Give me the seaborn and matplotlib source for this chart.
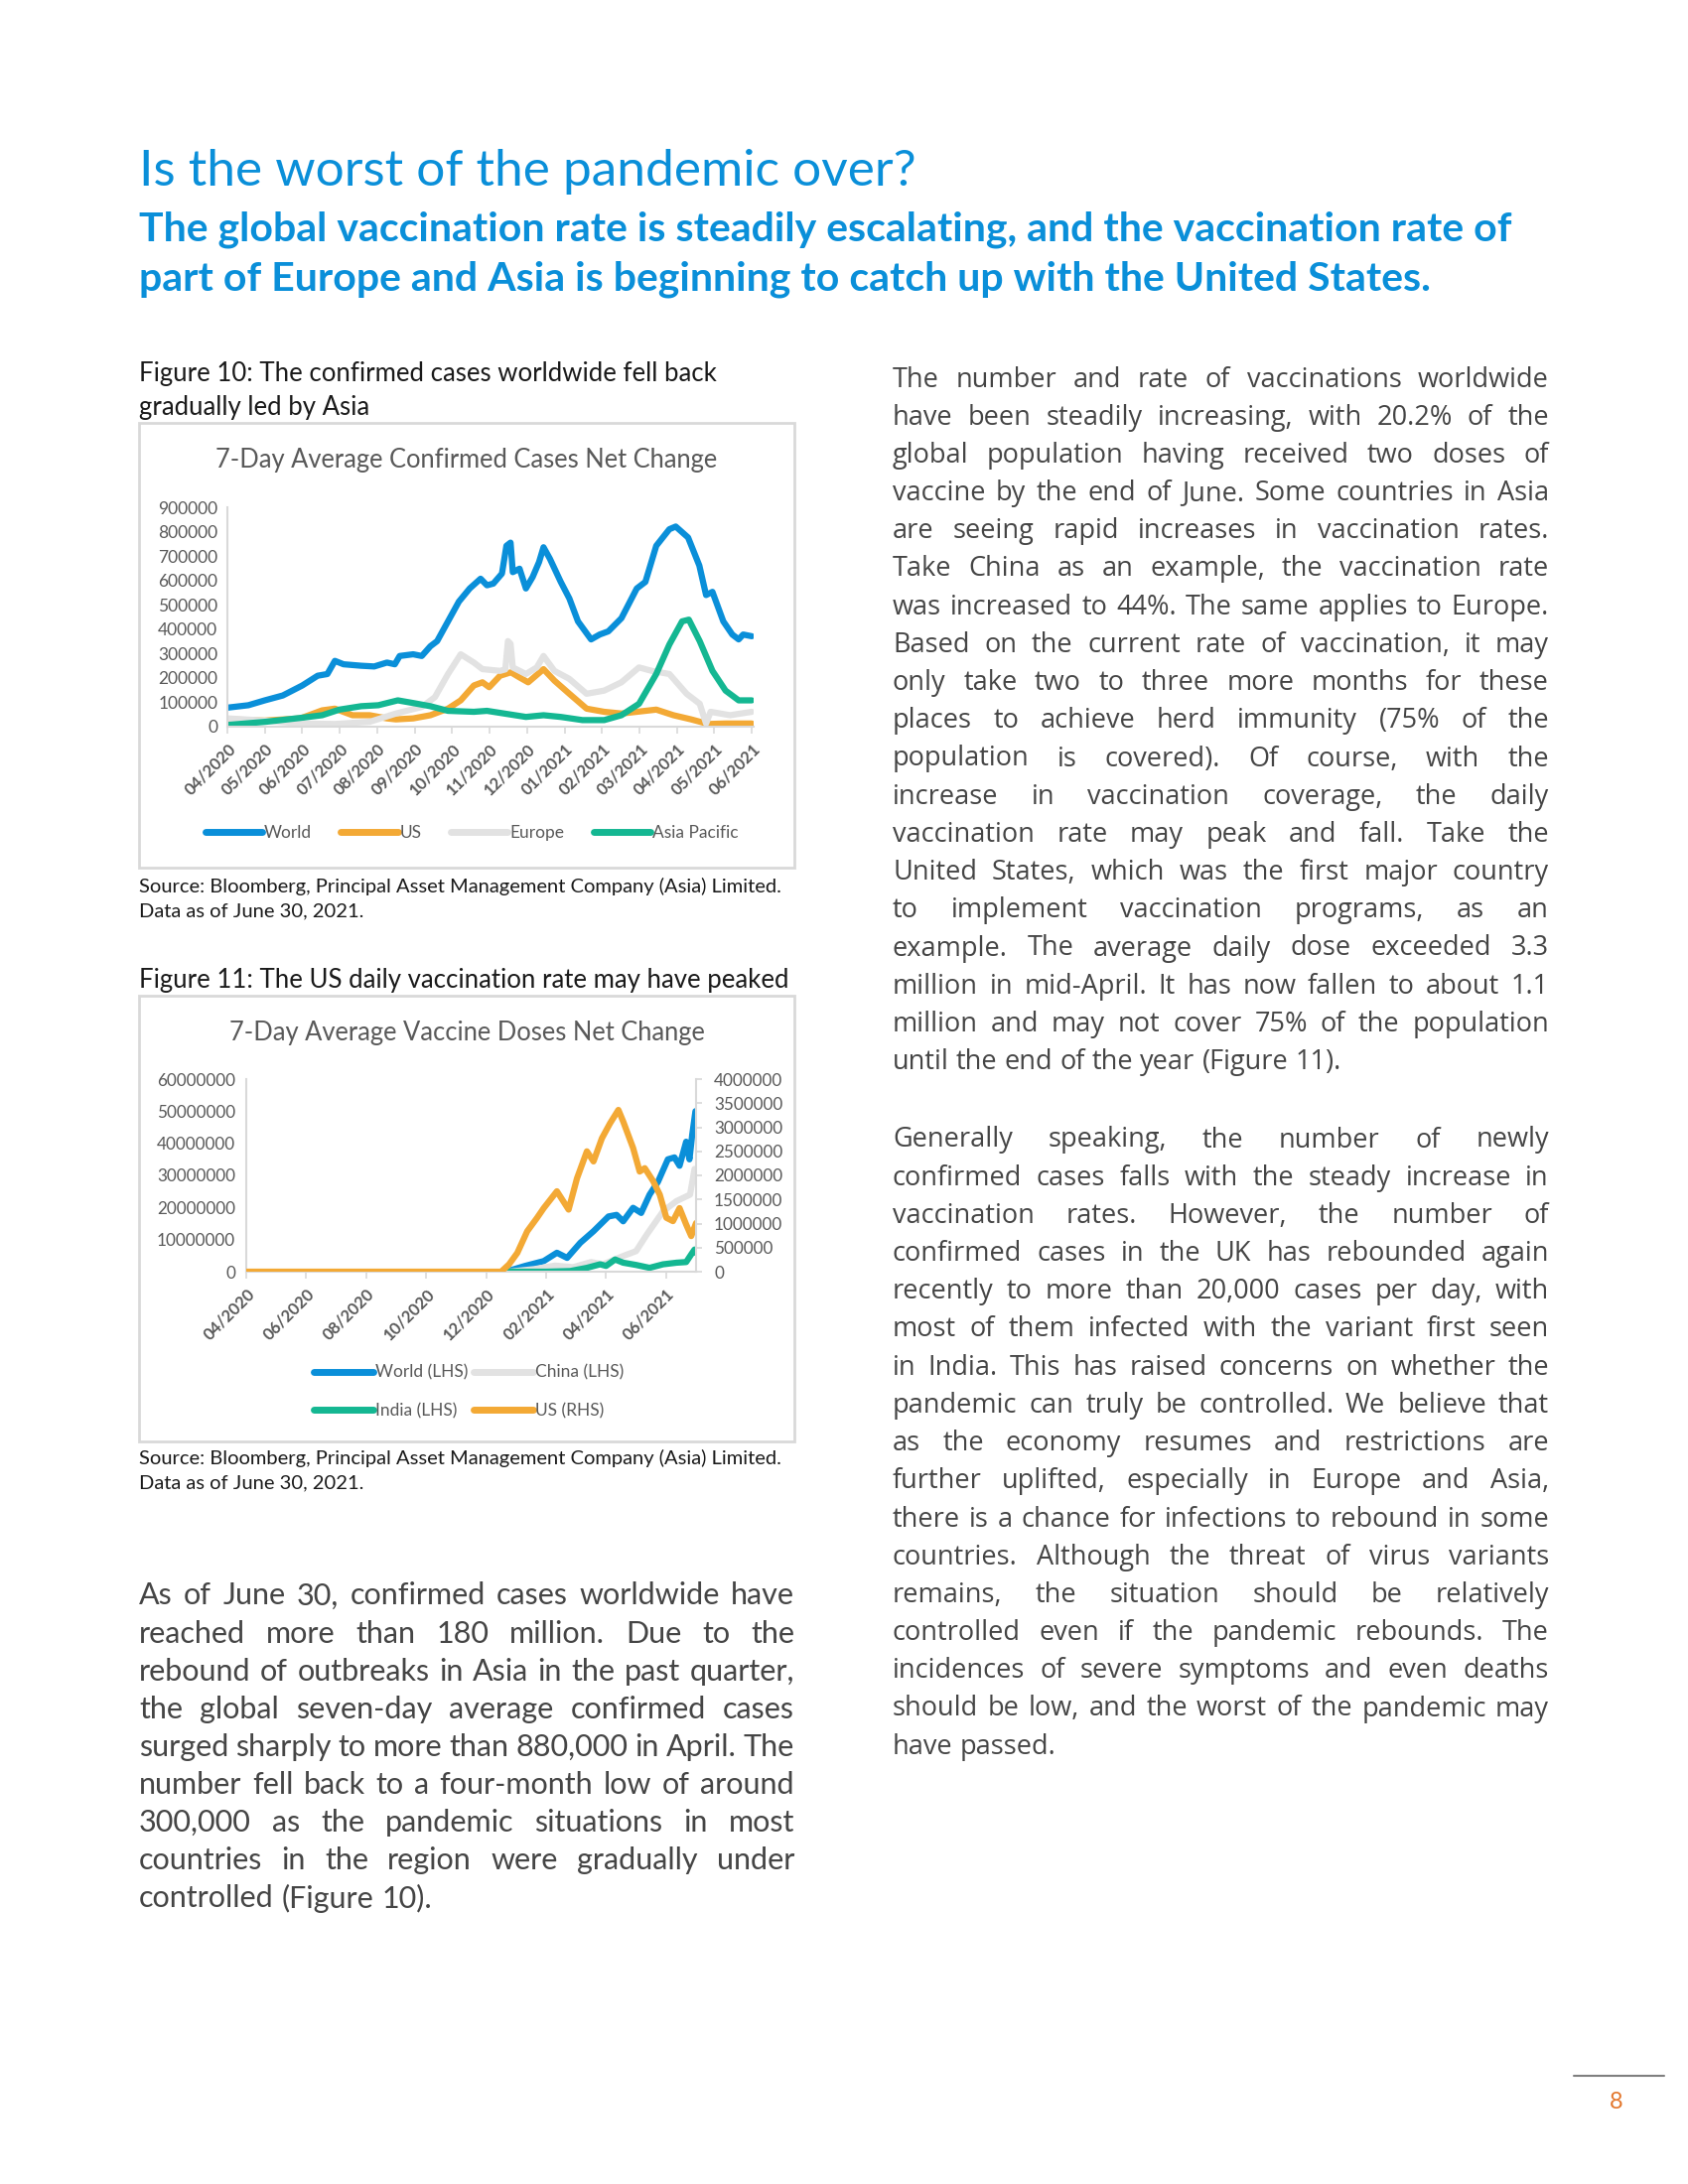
import matplotlib
matplotlib.use("Agg")
import matplotlib.pyplot as plt
import seaborn as sns
from matplotlib.lines import Line2D
from matplotlib.patches import Rectangle

# ---- Figure 10 data: 7-day average confirmed cases (thousands), x in months after 04/2020 tick
case_months = ["04/2020", "05/2020", "06/2020", "07/2020", "08/2020", "09/2020", "10/2020", "11/2020",
               "12/2020", "01/2021", "02/2021", "03/2021", "04/2021", "05/2021", "06/2021"]
case_yticks = [0, 100000, 200000, 300000, 400000, 500000, 600000, 700000, 800000, 900000]

world_t = [0, 0.56, 1, 1.48, 2, 2.41, 2.67, 2.87, 3.1, 3.57, 3.92, 4.26, 4.47, 4.6, 4.96, 5.19, 5.42, 5.6,
           5.89, 6.18, 6.47, 6.76, 6.93, 7.1, 7.33, 7.45, 7.56, 7.62, 7.8, 7.97, 8.15, 8.32, 8.44, 8.61, 8.9,
           9.13, 9.36, 9.71, 9.94, 10.17, 10.52, 10.93, 11.16, 11.45, 11.8, 11.97, 12.3, 12.6, 12.78, 12.95,
           13.24, 13.48, 13.65, 13.77, 14.0]
world_k = [78, 88, 108, 128, 169, 209, 216, 270, 256, 250, 247, 263, 256, 290, 297, 290, 330, 351, 432, 513,
           567, 607, 580, 587, 628, 742, 755, 634, 648, 567, 614, 675, 736, 689, 594, 526, 432, 358, 378, 391,
           445, 567, 594, 742, 810, 821, 776, 661, 540, 553, 432, 378, 358, 378, 371]

us_t = [0, 1.0, 1.95, 2.53, 2.87, 3.34, 3.8, 4.26, 4.5, 4.96, 5.42, 5.89, 6.23, 6.58, 6.81, 6.99, 7.28, 7.57,
        7.8, 8.03, 8.44, 8.73, 9.13, 9.59, 10.06, 10.52, 10.93, 11.45, 11.91, 12.38, 12.84, 13.3, 14.0]
us_k = [30, 25, 34, 67, 74, 47, 47, 34, 30, 34, 47, 74, 108, 169, 182, 162, 209, 223, 202, 182, 236, 189,
        135, 74, 61, 54, 61, 70, 47, 30, 11, 13, 13]

europe_t = [0, 0.79, 1.95, 2.87, 3.8, 4.5, 5.19, 5.54, 5.89, 6.23, 6.58, 6.81, 7.28, 7.42, 7.49, 7.56, 7.62,
            7.97, 8.26, 8.44, 8.73, 9.13, 9.59, 10.06, 10.52, 10.99, 11.33, 11.8, 12.26, 12.61, 12.78, 12.9,
            13.42, 14.0]
europe_k = [34, 27, 13, 11, 20, 54, 81, 121, 216, 297, 263, 236, 229, 235, 351, 340, 243, 216, 243, 290,
            229, 196, 135, 148, 182, 243, 229, 216, 135, 94, 13, 61, 47, 61]

asia_t = [0, 1.02, 1.95, 2.53, 2.99, 3.57, 4.03, 4.55, 4.96, 5.42, 5.89, 6.58, 6.93, 7.39, 7.97, 8.44, 8.9,
          9.48, 10.06, 10.52, 10.99, 11.45, 11.8, 12.14, 12.32, 12.61, 12.95, 13.3, 13.65, 14.0]
asia_k = [7, 20, 36, 47, 70, 84, 88, 108, 97, 84, 65, 61, 65, 54, 40, 47, 40, 27, 27, 47, 94, 216, 337,
          432, 439, 351, 229, 148, 108, 108]

# ---- Figure 11 data: 7-day average vaccine doses (millions), x in months after 04/2020 tick
dose_months = ["04/2020", "06/2020", "08/2020", "10/2020", "12/2020", "02/2021", "04/2021", "06/2021"]
dose_lhs_ticks = [0, 10000000, 20000000, 30000000, 40000000, 50000000, 60000000]
dose_rhs_ticks = [0, 500000, 1000000, 1500000, 2000000, 2500000, 3000000, 3500000, 4000000]

vworld_t = [8.76, 9.3, 9.92, 10.36, 10.7, 11.14, 11.58, 12.08, 12.35, 12.57, 12.9, 13.17, 13.45, 13.73,
            14.06, 14.28, 14.45, 14.67, 14.78, 14.87, 14.98]
vworld_m = [0.3, 1.8, 3.3, 5.9, 4.3, 9.0, 12.6, 17.2, 17.7, 15.7, 19.9, 18.3, 24.0, 28.0, 35.0, 35.6, 33.0,
            40.5, 35.0, 42.5, 50.0]

china_t = [8.76, 9.6, 10.3, 10.9, 11.5, 11.9, 12.6, 13.0, 13.36, 13.9, 14.35, 14.8, 14.95]
china_m = [0, 0.8, 1.9, 1.4, 3.0, 2.3, 5.0, 6.4, 11.6, 18.8, 22.0, 24.0, 32.0]

india_t = [8.76, 10.0, 10.8, 11.36, 11.8, 12.0, 12.3, 12.57, 13.0, 13.45, 13.9, 14.35, 14.67, 14.84, 14.95, 15.0]
india_m = [0, 0, 0.2, 1.2, 2.3, 1.8, 3.8, 2.8, 2.1, 1.2, 2.3, 2.8, 3.0, 5.4, 6.9, 5.9]

vus_t = [0, 8.5, 8.76, 9.04, 9.37, 9.7, 9.92, 10.36, 10.75, 11.03, 11.36, 11.58, 11.86, 12.13, 12.41, 12.57,
         12.9, 13.12, 13.29, 13.57, 13.79, 14.01, 14.23, 14.45, 14.67, 14.84, 15.0]
vus_m = [0, 0, 0.15, 0.39, 0.84, 1.12, 1.32, 1.67, 1.29, 1.94, 2.5, 2.29, 2.77, 3.08, 3.36, 3.12, 2.57, 2.08,
         2.15, 1.88, 1.6, 1.12, 1.05, 1.32, 0.98, 0.74, 1.01]

# ---- page text
heading = "Is the worst of the pandemic over?"
subheading = ["The global vaccination rate is steadily escalating, and the vaccination rate of",
              "part of Europe and Asia is beginning to catch up with the United States."]
fig10_caption = ["Figure 10: The confirmed cases worldwide fell back", "gradually led by Asia"]
fig11_caption = ["Figure 11: The US daily vaccination rate may have peaked"]
source_lines = ["Source: Bloomberg, Principal Asset Management Company (Asia) Limited.",
                "Data as of June 30, 2021."]

left_para = [
    "As of June 30, confirmed cases worldwide have",
    "reached more than 180 million. Due to the",
    "rebound of outbreaks in Asia in the past quarter,",
    "the global seven-day average confirmed cases",
    "surged sharply to more than 880,000 in April. The",
    "number fell back to a four-month low of around",
    "300,000 as the pandemic situations in most",
    "countries in the region were gradually under",
    "controlled (Figure 10).",
]
right_para1 = [
    "The number and rate of vaccinations worldwide",
    "have been steadily increasing, with 20.2% of the",
    "global population having received two doses of",
    "vaccine by the end of June. Some countries in Asia",
    "are seeing rapid increases in vaccination rates.",
    "Take China as an example, the vaccination rate",
    "was increased to 44%. The same applies to Europe.",
    "Based on the current rate of vaccination, it may",
    "only take two to three more months for these",
    "places to achieve herd immunity (75% of the",
    "population is covered). Of course, with the",
    "increase in vaccination coverage, the daily",
    "vaccination rate may peak and fall. Take the",
    "United States, which was the first major country",
    "to implement vaccination programs, as an",
    "example. The average daily dose exceeded 3.3",
    "million in mid-April. It has now fallen to about 1.1",
    "million and may not cover 75% of the population",
    "until the end of the year (Figure 11).",
]
right_para2 = [
    "Generally speaking, the number of newly",
    "confirmed cases falls with the steady increase in",
    "vaccination rates. However, the number of",
    "confirmed cases in the UK has rebounded again",
    "recently to more than 20,000 cases per day, with",
    "most of them infected with the variant first seen",
    "in India. This has raised concerns on whether the",
    "pandemic can truly be controlled. We believe that",
    "as the economy resumes and restrictions are",
    "further uplifted, especially in Europe and Asia,",
    "there is a chance for infections to rebound in some",
    "countries. Although the threat of virus variants",
    "remains, the situation should be relatively",
    "controlled even if the pandemic rebounds. The",
    "incidences of severe symptoms and even deaths",
    "should be low, and the worst of the pandemic may",
    "have passed.",
]

BLUE = "#0A8FD9"
ORANGE = "#F3A935"
GREY = "#E2E2E2"
TEAL = "#14B792"
AXIS = "#D9D9D9"
TICK = "#595959"
BODY = "#454545"

sns.set_theme(style="white")
plt.rcParams["font.family"] = ["Lato", "DejaVu Sans"]

W, H = 1700, 2200
fig = plt.figure(figsize=(17, 22), dpi=100)
fig.patch.set_facecolor("white")


def fx(x):
    return x / W


def fy(y):
    return 1 - y / H


def put(x, y, s, **kw):
    kw.setdefault("va", "center_baseline")
    return fig.text(fx(x), fy(y), s, **kw)


def frame(x0, y0, x1, y1):
    fig.add_artist(Rectangle((fx(x0), fy(y1)), (x1 - x0) / W, (y1 - y0) / H, transform=fig.transFigure,
                             fill=False, ec=AXIS, lw=2))


def justify(lines, x0, x1, y0, dy, size, color, family):
    r = fig.canvas.get_renderer()
    space = size * 100 / 72 * 0.26
    for i, line in enumerate(lines):
        y = y0 + i * dy
        words = line.split()
        ts = [put(0, y, w, fontsize=size, color=color, ha="left", family=family) for w in words]
        ws = [t.get_window_extent(r).width for t in ts]
        if i == len(lines) - 1 or len(words) == 1:
            gap = space
        else:
            gap = (x1 - x0 - sum(ws)) / (len(words) - 1)
        x = x0
        for t, w in zip(ts, ws):
            t.set_x(fx(x))
            x += w + gap


def style_axis(ax):
    for side in ["top", "right"]:
        ax.spines[side].set_visible(False)
    for side in ["left", "bottom"]:
        ax.spines[side].set_color(AXIS)
        ax.spines[side].set_linewidth(1.5)
    ax.set_facecolor("none")
    ax.grid(False)
    ax.set_xlabel("")
    ax.set_ylabel("")


# ---- headings
put(140, 168, heading, fontsize=37, color=BLUE)
put(140, 227, subheading[0], fontsize=29.5, color=BLUE, fontweight="bold")
put(140, 278, subheading[1], fontsize=29.5, color=BLUE, fontweight="bold")

# ---- Figure 10
put(140, 374, fig10_caption[0], fontsize=18.5, color="#1A1A1A")
put(140, 408, fig10_caption[1], fontsize=18.5, color="#1A1A1A")
frame(140, 426, 800, 874)
put(470, 461, "7-Day Average Confirmed Cases Net Change", fontsize=18.4, color=TICK, ha="center")

ax1 = fig.add_axes([fx(229), fy(732), (759 - 229) / W, (732 - 511) / H])
lw = 4.5
sns.lineplot(x=world_t, y=[v * 1000 for v in world_k], ax=ax1, color=BLUE, lw=lw)
sns.lineplot(x=us_t, y=[v * 1000 for v in us_k], ax=ax1, color=ORANGE, lw=lw)
sns.lineplot(x=europe_t, y=[v * 1000 for v in europe_k], ax=ax1, color=GREY, lw=lw)
sns.lineplot(x=asia_t, y=[v * 1000 for v in asia_k], ax=ax1, color=TEAL, lw=lw)
style_axis(ax1)
ax1.set_xlim(0, 14.05)
ax1.set_ylim(0, 900000)
ax1.set_yticks(case_yticks)
ax1.set_yticklabels([str(v) for v in case_yticks], fontsize=12.5, color=TICK)
ax1.set_xticks(range(len(case_months)))
ax1.set_xticklabels(case_months, rotation=45, ha="right", va="top", rotation_mode="anchor",
                    fontsize=12, color=TICK, fontweight="bold")
ax1.tick_params(axis="y", length=0, pad=7)
ax1.tick_params(axis="x", length=5, color=AXIS, width=1.2, pad=5, direction="out", bottom=True)

h1 = [Line2D([], [], color=c, lw=5) for c in [BLUE, ORANGE, GREY, TEAL]]
fig.legend(h1, ["World", "US", "Europe", "Asia Pacific"], loc="center", bbox_to_anchor=(fx(475), fy(839)),
           ncol=4, frameon=False, fontsize=12.5, labelcolor=TICK, handlelength=3.3, handletextpad=0.1,
           columnspacing=1.7)

for i, s in enumerate(source_lines):
    put(140, 891 + 25 * i, s, fontsize=14.5, color="#1A1A1A")

# ---- Figure 11
put(140, 985, fig11_caption[0], fontsize=18.5, color="#1A1A1A")
frame(140, 1003, 800, 1452)
put(470, 1038, "7-Day Average Vaccine Doses Net Change", fontsize=18.4, color=TICK, ha="center")

ax2 = fig.add_axes([fx(248), fy(1281), (701 - 248) / W, (1281 - 1087) / H])
sns.lineplot(x=vworld_t, y=[v * 1e6 for v in vworld_m], ax=ax2, color=BLUE, lw=lw)
sns.lineplot(x=china_t, y=[v * 1e6 for v in china_m], ax=ax2, color=GREY, lw=lw)
sns.lineplot(x=india_t, y=[v * 1e6 for v in india_m], ax=ax2, color=TEAL, lw=lw)
style_axis(ax2)
ax2.set_xlim(0, 15)
ax2.set_ylim(0, 60000000)
ax2.set_yticks(dose_lhs_ticks)
ax2.set_yticklabels([str(v) for v in dose_lhs_ticks], fontsize=12.3, color=TICK)
ax2.set_xticks(range(0, 16, 2))
ax2.set_xticklabels(dose_months, rotation=45, ha="right", va="top", rotation_mode="anchor",
                    fontsize=12, color=TICK, fontweight="bold")
ax2.tick_params(axis="y", length=0, pad=8)
ax2.tick_params(axis="x", length=5, color=AXIS, width=1.2, pad=5, direction="out", bottom=True)

ax3 = ax2.twinx()
sns.lineplot(x=vus_t, y=[v * 1e6 for v in vus_m], ax=ax3, color=ORANGE, lw=lw)
for side in ["top", "left", "bottom"]:
    ax3.spines[side].set_visible(False)
ax3.spines["right"].set_color(AXIS)
ax3.spines["right"].set_linewidth(1.5)
ax3.grid(False)
ax3.set_ylabel("")
ax3.set_xlim(0, 15)
ax3.set_ylim(0, 4000000)
ax3.set_yticks(dose_rhs_ticks)
ax3.set_yticklabels([str(v) for v in dose_rhs_ticks], fontsize=12.3, color=TICK)
ax3.tick_params(axis="y", length=4, color=AXIS, pad=9, right=True, direction="out")

h2 = [Line2D([], [], color=c, lw=5) for c in [BLUE, TEAL, GREY, ORANGE]]
fig.legend(h2, ["World (LHS)", "India (LHS)", "China (LHS)", "US (RHS)"], loc="center",
           bbox_to_anchor=(fx(472), fy(1402)), ncol=2, frameon=False, fontsize=12.5, labelcolor=TICK,
           handlelength=3.5, handletextpad=0.1, columnspacing=0.3, labelspacing=1.3)

for i, s in enumerate(source_lines):
    put(140, 1467 + 25 * i, s, fontsize=14.5, color="#1A1A1A")

# ---- body text
justify(left_para, 140, 800, 1605, 38.1, 22, BODY, "Lato")
justify(right_para1, 899, 1560, 379, 38.2, 19.5, BODY, "Open Sans")
justify(right_para2, 899, 1560, 1145, 38.2, 19.5, BODY, "Open Sans")

# ---- page number
fig.add_artist(Line2D([fx(1585), fx(1676)], [fy(2091), fy(2091)], color="#7F7F7F", lw=1.5,
                      transform=fig.transFigure))
put(1628, 2115, "8", fontsize=17, color="#E3762B", ha="center")

fig.savefig("out.png", dpi=100, facecolor="white")
